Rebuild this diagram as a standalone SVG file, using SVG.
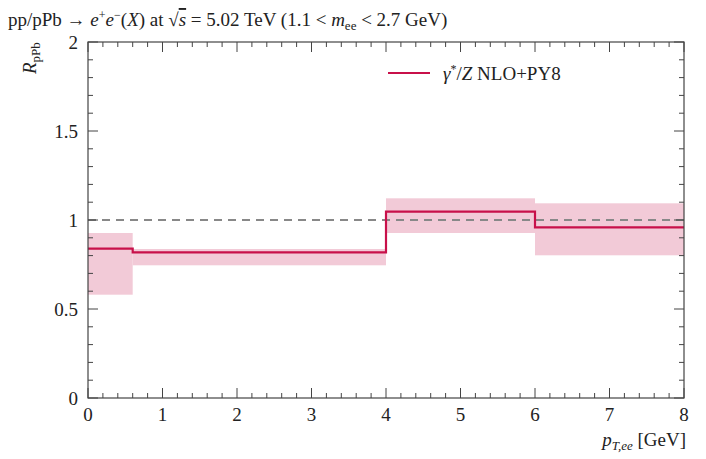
<svg xmlns="http://www.w3.org/2000/svg" width="706" height="459" viewBox="0 0 706 459">
<style>
text{font-family:"Liberation Serif","DejaVu Serif",serif;fill:#222;font-size:19px}
.tick{stroke:#444;stroke-width:1}
.band{fill:#f2cad7}
.line{fill:none;stroke:#c8104a;stroke-width:2.2}
</style>
<rect width="706" height="459" fill="#fff"/>
<g id="bands">
<rect class="band" x="88" y="233" width="44.7" height="61.7"/>
<rect class="band" x="132.7" y="249" width="253.3" height="16.3"/>
<rect class="band" x="386" y="198.3" width="149" height="34.7"/>
<rect class="band" x="535" y="203.3" width="149" height="52"/>
</g>
<g id="connectors">
<line x1="88" y1="220" x2="684" y2="220" stroke="#888" stroke-width="2" stroke-dasharray="8,6"/>
<path class="line" d="M88,248.7H132.7V252.3H386V211.7H535V227.3H684"/>
</g>
<g id="frame">
<rect x="88" y="42" width="596" height="356" fill="none" stroke="#444" stroke-width="1.2"/>
<path class="tick" d="M88,398v-10M162.5,398v-10M237,398v-10M311.5,398v-10M386,398v-10M460.5,398v-10M535,398v-10M609.5,398v-10M684,398v-10
M88,42v10M162.5,42v10M237,42v10M311.5,42v10M386,42v10M460.5,42v10M535,42v10M609.5,42v10M684,42v10
M88,398h10M88,309h10M88,220h10M88,131h10M88,42h10
M684,398h-10M684,309h-10M684,220h-10M684,131h-10M684,42h-10"/>
<path class="tick" d="M102.9,398v-5M117.8,398v-5M132.7,398v-5M147.6,398v-5M177.4,398v-5M192.3,398v-5M207.2,398v-5M222.1,398v-5M251.9,398v-5M266.8,398v-5M281.7,398v-5M296.6,398v-5M326.4,398v-5M341.3,398v-5M356.2,398v-5M371.1,398v-5M400.9,398v-5M415.8,398v-5M430.7,398v-5M445.6,398v-5M475.4,398v-5M490.3,398v-5M505.2,398v-5M520.1,398v-5M549.9,398v-5M564.8,398v-5M579.7,398v-5M594.6,398v-5M624.4,398v-5M639.3,398v-5M654.2,398v-5M669.1,398v-5
M102.9,42v5M117.8,42v5M132.7,42v5M147.6,42v5M177.4,42v5M192.3,42v5M207.2,42v5M222.1,42v5M251.9,42v5M266.8,42v5M281.7,42v5M296.6,42v5M326.4,42v5M341.3,42v5M356.2,42v5M371.1,42v5M400.9,42v5M415.8,42v5M430.7,42v5M445.6,42v5M475.4,42v5M490.3,42v5M505.2,42v5M520.1,42v5M549.9,42v5M564.8,42v5M579.7,42v5M594.6,42v5M624.4,42v5M639.3,42v5M654.2,42v5M669.1,42v5"/>
<path class="tick" id="ym" d="M88,380.2h5M88,362.4h5M88,344.6h5M88,326.8h5M88,291.2h5M88,273.4h5M88,255.6h5M88,237.8h5M88,202.2h5M88,184.4h5M88,166.6h5M88,148.8h5M88,113.2h5M88,95.4h5M88,77.6h5M88,59.8h5"/>
<use href="#ym" transform="translate(772,0) scale(-1,1)"/>
</g>
<g id="labels">
<g text-anchor="middle">
<text x="88" y="421">0</text><text x="162.5" y="421">1</text><text x="237" y="421">2</text><text x="311.5" y="421">3</text><text x="386" y="421">4</text><text x="460.5" y="421">5</text><text x="535" y="421">6</text><text x="609.5" y="421">7</text><text x="684" y="421">8</text>
</g>
<g text-anchor="end">
<text x="78" y="405">0</text><text x="78" y="316">0.5</text><text x="78" y="227">1</text><text x="78" y="138">1.5</text><text x="78" y="49">2</text>
</g>
<text x="686" y="446" text-anchor="end"><tspan font-style="italic">p</tspan><tspan font-style="italic" font-size="13" dy="4">T,ee</tspan><tspan dy="-4"> [GeV]</tspan></text>
<text x="8" y="70" transform="rotate(-90 24 58)"><tspan font-style="italic">R</tspan><tspan font-size="13" dy="4">pPb</tspan></text>
<text x="8" y="26">pp/pPb → <tspan font-style="italic">e</tspan><tspan font-size="12" dy="-7">+</tspan><tspan font-style="italic" dy="7">e</tspan><tspan font-size="12" dy="-7">−</tspan><tspan dy="7">(</tspan><tspan font-style="italic">X</tspan>) at √<tspan font-style="italic" text-decoration="overline">s</tspan> = 5.02 TeV (1.1 &lt; <tspan font-style="italic">m</tspan><tspan font-size="13" dy="4">ee</tspan><tspan dy="-4"> &lt; 2.7 GeV)</tspan></text>
</g>
<g id="legend">
<line x1="388" y1="73" x2="430" y2="73" stroke="#c8104a" stroke-width="2.2"/>
<text x="443" y="80"><tspan font-style="italic">γ</tspan><tspan font-size="12" dy="-7">*</tspan><tspan dy="7">/</tspan><tspan font-style="italic">Z</tspan> NLO+PY8</text>
</g>
</svg>
